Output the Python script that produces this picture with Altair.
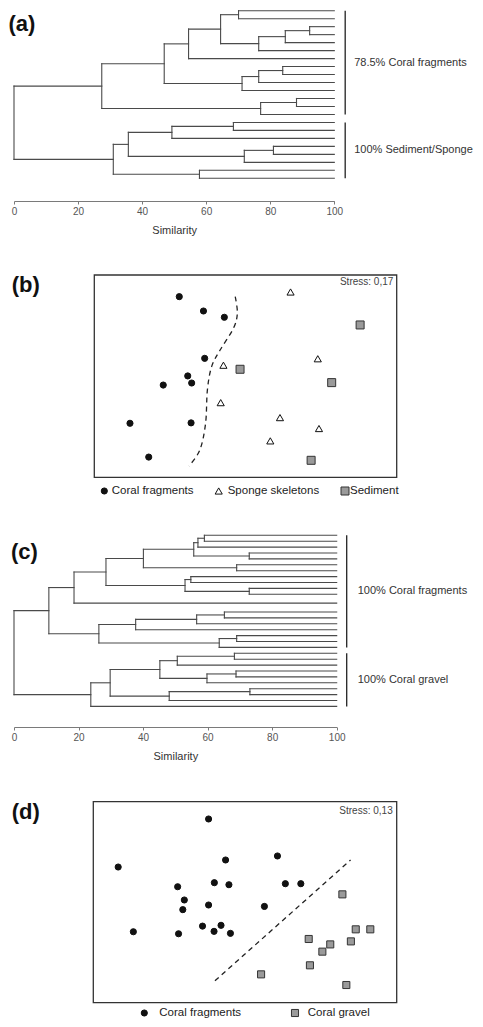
import altair as alt
import pandas as pd

FONT = "Liberation Sans"
W = 467

# ---------------- (a) dendrogram ----------------
a_leaf_slots = list(range(22))
a_merge_left = [0, 2, 23, 24, 22, 26, 7, 28, 29, 27, 11, 32, 31, 14, 35, 17, 37, 36, 20, 39, 34]
a_merge_right = [1, 3, 4, 5, 25, 6, 8, 9, 10, 30, 12, 13, 33, 15, 16, 18, 19, 38, 21, 40, 41]
a_merge_sim = [70.1, 92.3, 84.7, 76.4, 64.5, 54.5, 83.9, 76.4, 71.2, 46.9, 88.2, 77.0,
               27.4, 68.5, 49.3, 81.0, 71.9, 35.7, 57.9, 31.0, 0.0]
a_group_labels = ["78.5% Coral fragments", "100% Sediment/Sponge"]
a_group_first = [0, 14]
a_group_last = [13, 21]
a_bracket_sim = 103.4

# ---------------- (b) MDS ----------------
b_cats = ["Coral fragments", "Sponge skeletons", "Sediment"]
b_circle_x = [28.1, 36.1, 43.0, 36.5, 30.9, 32.2, 22.8, 11.8, 32.0, 18.0]
b_circle_y = [89.3, 82.2, 79.1, 58.8, 50.1, 46.6, 45.6, 26.7, 26.9, 10.0]
b_tri_x = [64.9, 42.7, 73.9, 41.8, 61.4, 74.3, 58.2]
b_tri_y = [91.6, 55.4, 58.6, 36.9, 29.5, 24.1, 18.0]
b_sq_x = [87.9, 48.2, 78.5, 71.7]
b_sq_y = [75.3, 53.4, 46.8, 8.4]
b_line_x = [46.6, 47.3, 46.0, 41.6, 38.8, 37.4, 36.8, 34.9, 31.3]
b_line_y = [89.3, 81.1, 73.6, 62.9, 54.7, 43.2, 26.7, 13.5, 5.6]
b_stress = "Stress: 0,17"

# ---------------- (c) dendrogram ----------------
c_leaf_slots = list(range(11)) + [11.5] + list(range(13, 30))
c_merge_left = [0, 29, 3, 30, 5, 32, 7, 9, 35, 34, 38, 12, 40, 41, 16, 43, 42, 39,
                19, 47, 22, 49, 48, 25, 52, 51, 54, 46]
c_merge_right = [1, 2, 4, 31, 6, 33, 8, 10, 36, 37, 11, 13, 14, 15, 17, 18, 44, 45,
                 20, 21, 23, 24, 50, 26, 27, 53, 28, 55]
c_merge_sim = [59.0, 57.0, 72.9, 55.7, 69.0, 40.1, 54.8, 72.9, 53.0, 28.5, 18.6, 65.2,
               56.6, 37.7, 69.0, 63.6, 26.3, 10.8, 68.3, 50.6, 68.8, 59.8, 45.2, 73.1,
               48.1, 29.8, 23.8, 0.0]
c_group_labels = ["100% Coral fragments", "100% Coral gravel"]
c_group_first = [0, 19]
c_group_last = [18, 28]
c_bracket_sim = 103.1

# ---------------- (d) MDS ----------------
d_cats = ["Coral fragments", "Coral gravel"]
d_circle_x = [38.0, 8.2, 43.6, 60.7, 27.8, 39.9, 44.7, 63.3, 68.4, 30.0, 29.5, 38.0,
              56.4, 13.2, 28.1, 36.0, 42.1, 39.8, 45.2]
d_circle_y = [91.4, 67.5, 71.0, 73.0, 57.7, 59.7, 58.7, 59.2, 59.2, 51.1, 46.3, 48.6,
              47.9, 35.3, 34.3, 38.1, 38.5, 35.5, 34.5]
d_sq_x = [82.1, 86.5, 91.3, 71.0, 84.9, 78.1, 75.5, 71.4, 55.3, 83.4]
d_sq_y = [53.9, 36.5, 36.5, 31.7, 30.5, 29.0, 25.4, 18.6, 14.1, 8.8]
d_line_x = [40.1, 84.8]
d_line_y = [10.9, 71.0]
d_stress = "Stress: 0,13"


def dendro_segments(leaf_pos, left, right, sims):
    xs = [100.0] * len(leaf_pos)
    ys = list(leaf_pos)
    rows = []
    for a, b, h in zip(left, right, sims):
        for ch in (a, b):
            rows.append(dict(x=h, x2=xs[ch], y=ys[ch], y2=ys[ch]))
        rows.append(dict(x=h, x2=h, y=ys[a], y2=ys[b]))
        xs.append(h)
        ys.append((ys[a] + ys[b]) / 2)
    return pd.DataFrame(rows)


def letter_layer(letter, x, y):
    return alt.Chart(pd.DataFrame({"t": [letter]})).mark_text(
        align="left", baseline="alphabetic", fontSize=22, fontWeight="bold",
        font=FONT, color="#111111"
    ).encode(x=alt.value(x), y=alt.value(y), text="t:N")


def dendro_panel(leaf_pos, left, right, sims, labels, first, last, bsim,
                 letter, letter_xy, xrange, yrange, height, label_dx):
    segs = dendro_segments(leaf_pos, left, right, sims)
    br = pd.DataFrame({
        "x": [bsim] * len(labels),
        "y": [leaf_pos[i] for i in first],
        "y2": [leaf_pos[i] for i in last],
        "label": labels,
    })
    br["ymid"] = (br["y"] + br["y2"]) / 2
    xs = alt.Scale(domain=[0, 100], range=xrange, nice=False, zero=False)
    ys = alt.Scale(domain=[min(leaf_pos), max(leaf_pos)], range=yrange, nice=False, zero=False)
    axis = alt.Axis(values=[0, 20, 40, 60, 80, 100], title="Similarity", format="d",
                    grid=False, domainColor="#7a7a7a", tickColor="#7a7a7a", tickSize=3,
                    labelColor="#555555", labelFontSize=10, labelPadding=2, labelFlush=False,
                    labelFont=FONT, titleFont=FONT, titleFontSize=11,
                    titleFontWeight="normal", titleColor="#333333", titlePadding=8)
    lines = alt.Chart(segs).mark_rule(color="#4a4a4a", strokeWidth=1.1, strokeCap="square").encode(
        x=alt.X("x:Q", scale=xs, axis=axis),
        x2="x2:Q",
        y=alt.Y("y:Q", scale=ys, axis=None),
        y2="y2:Q",
    )
    brk = alt.Chart(br).mark_rule(color="#222222", strokeWidth=1.3).encode(
        x=alt.X("x:Q", scale=xs), y=alt.Y("y:Q", scale=ys, axis=None), y2="y2:Q"
    )
    lab = alt.Chart(br).mark_text(align="left", baseline="middle", dx=label_dx, fontSize=11,
                                  color="#333333", font=FONT).encode(
        x=alt.X("x:Q", scale=xs), y=alt.Y("ymid:Q", scale=ys, axis=None), text="label:N"
    )
    return alt.layer(lines, brk, lab, letter_layer(letter, *letter_xy)).properties(
        width=W, height=height)


def mds_panel(pts, field, cats, shapes, fills, strokes, sizes, line_df, stress, stress_xy,
              letter, letter_xy, xrange, yrange, height, leg_sx, leg_tx, leg_y):
    xs = alt.Scale(domain=[0, 100], range=xrange, nice=False, zero=False)
    ys = alt.Scale(domain=[0, 100], range=yrange, nice=False, zero=False)
    shp = alt.Scale(domain=cats, range=shapes)
    fil = alt.Scale(domain=cats, range=fills)
    stk = alt.Scale(domain=cats, range=strokes)
    siz = alt.Scale(domain=cats, range=sizes)
    box = alt.Chart(pd.DataFrame({"x": [0], "x2": [100], "y": [0], "y2": [100]})).mark_rect(
        fill="transparent", stroke="#333333", strokeWidth=1.3
    ).encode(x=alt.X("x:Q", scale=xs, axis=None), x2="x2:Q",
             y=alt.Y("y:Q", scale=ys, axis=None), y2="y2:Q")
    dash = alt.Chart(line_df).mark_line(color="#222222", strokeWidth=1.3, strokeDash=[5, 4],
                                        interpolate="cardinal").encode(
        x=alt.X("x:Q", scale=xs, axis=None), y=alt.Y("y:Q", scale=ys, axis=None), order="i:Q")
    points = alt.Chart(pts).mark_point(filled=True, opacity=1, strokeWidth=1).encode(
        x=alt.X("x:Q", scale=xs, axis=None),
        y=alt.Y("y:Q", scale=ys, axis=None),
        shape=alt.Shape(f"{field}:N", scale=shp, legend=None),
        fill=alt.Fill(f"{field}:N", scale=fil, legend=None),
        stroke=alt.Stroke(f"{field}:N", scale=stk, legend=None),
        size=alt.Size(f"{field}:N", scale=siz, legend=None),
    )
    # legend (key) below the box, drawn with the same categorical scales
    leg = pd.DataFrame({field: cats, "sx": leg_sx, "tx": leg_tx})
    px = alt.Scale(domain=[0, W], range=[0, W], nice=False, zero=False)
    leg_sym = alt.Chart(leg).mark_point(filled=True, opacity=1, strokeWidth=1).encode(
        x=alt.X("sx:Q", scale=px, axis=None),
        y=alt.value(leg_y),
        shape=alt.Shape(f"{field}:N", scale=shp, legend=None),
        fill=alt.Fill(f"{field}:N", scale=fil, legend=None),
        stroke=alt.Stroke(f"{field}:N", scale=stk, legend=None),
        size=alt.Size(f"{field}:N", scale=siz, legend=None),
    )
    leg_txt = alt.Chart(leg).mark_text(align="left", baseline="middle", fontSize=11.5,
                                       color="#222222", font=FONT).encode(
        x=alt.X("tx:Q", scale=px, axis=None), y=alt.value(leg_y), text=f"{field}:N")
    st = alt.Chart(pd.DataFrame({"t": [stress]})).mark_text(
        align="right", baseline="middle", fontSize=10, color="#444444", font=FONT
    ).encode(x=alt.value(stress_xy[0]), y=alt.value(stress_xy[1]), text="t:N")
    return alt.layer(box, dash, points, leg_sym, leg_txt, st,
                     letter_layer(letter, *letter_xy)).resolve_scale(
        x="independent", y="independent").properties(width=W, height=height)


# data tables
b_pts = pd.DataFrame({
    "x": b_circle_x + b_tri_x + b_sq_x,
    "y": b_circle_y + b_tri_y + b_sq_y,
    "type_b": [b_cats[0]] * len(b_circle_x) + [b_cats[1]] * len(b_tri_x) + [b_cats[2]] * len(b_sq_x),
})
b_line = pd.DataFrame({"x": b_line_x, "y": b_line_y, "i": list(range(len(b_line_x)))})
d_pts = pd.DataFrame({
    "x": d_circle_x + d_sq_x,
    "y": d_circle_y + d_sq_y,
    "type_d": [d_cats[0]] * len(d_circle_x) + [d_cats[1]] * len(d_sq_x),
})
d_line = pd.DataFrame({"x": d_line_x, "y": d_line_y, "i": list(range(len(d_line_x)))})

pa = dendro_panel(a_leaf_slots, a_merge_left, a_merge_right, a_merge_sim, a_group_labels,
                  a_group_first, a_group_last, a_bracket_sim, "(a)", (0.5, 22.5),
                  [6, 326.3], [2.7, 170.3], 193, 9)
pb = mds_panel(b_pts, "type_b", b_cats, ["circle", "triangle-up", "square"],
               ["#111111", "#ffffff", "#9a9a9a"], ["#111111", "#111111", "#333333"],
               [38, 64, 50], b_line, b_stress, (385.3, 81.3), "(b)", (3.7, 91.3),
               [86.3, 388.7], [276.3, 74], 319,
               [96.3, 210.7, 337.0], [103.7, 219.7, 342.0], 290)
pc = dendro_panel(c_leaf_slots, c_merge_left, c_merge_right, c_merge_sim, c_group_labels,
                  c_group_first, c_group_last, c_bracket_sim, "(c)", (3, 38.5),
                  [6, 328.7], [15.3, 186.4], 207, 11)
pd_ = mds_panel(d_pts, "type_d", d_cats, ["circle", "square"],
                ["#111111", "#9a9a9a"], ["#111111", "#333333"],
                [38, 50], d_line, d_stress, (384.7, 83.7), "(d)", (3.7, 92),
                [85.3, 388.7], [275.7, 74.7], 284,
                [136.3, 287.0], [151.3, 299.7], 286)

chart = alt.vconcat(pa, pb, pc, pd_, spacing=0, bounds="flush").resolve_scale(
    x="independent", y="independent", shape="independent", fill="independent",
    stroke="independent", size="independent"
).properties(padding=0).configure_view(strokeWidth=0)

chart.save("out.html", embed_options={"renderer": "svg", "actions": False})
